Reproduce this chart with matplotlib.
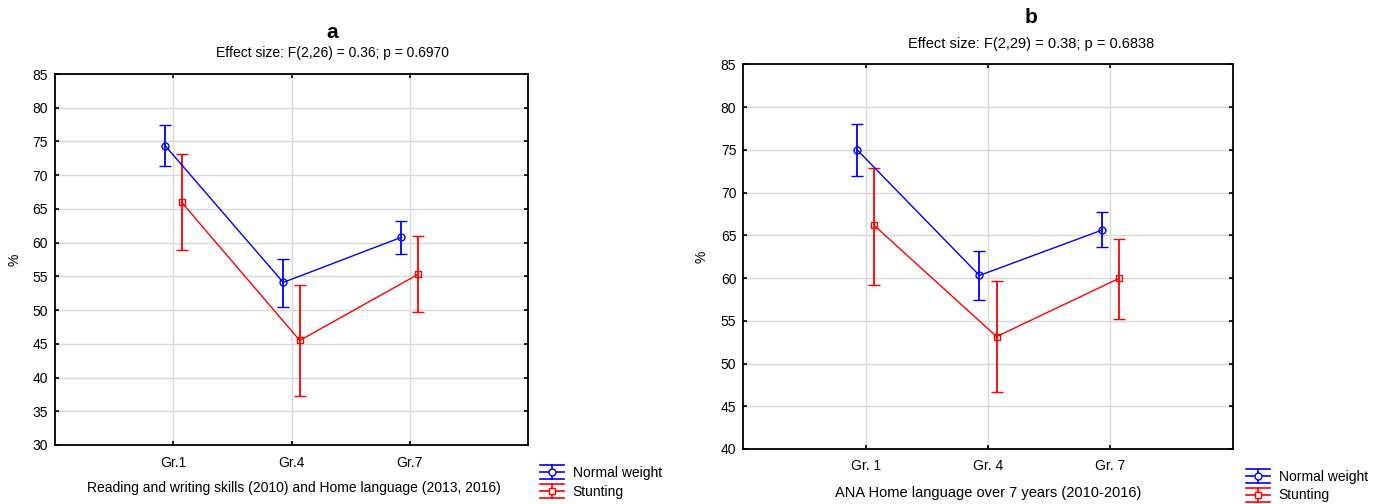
import matplotlib
matplotlib.use("Agg")
import matplotlib.pyplot as plt
import numpy as np
from matplotlib.lines import Line2D
from matplotlib.legend_handler import HandlerBase

plt.rcParams['font.family'] = ['Liberation Sans', 'DejaVu Sans']

# ---------------- data ----------------
groups_a = ["Gr.1", "Gr.4", "Gr.7"]
groups_b = ["Gr. 1", "Gr. 4", "Gr. 7"]
series = ["Normal weight", "Stunting"]

a_normal_mean = [74.4, 54.1, 60.8]
a_normal_lo = [71.3, 50.5, 58.3]
a_normal_hi = [77.4, 57.6, 63.2]
a_stunt_mean = [66.0, 45.5, 55.3]
a_stunt_lo = [58.9, 37.3, 49.7]
a_stunt_hi = [73.1, 53.7, 61.0]

b_normal_mean = [75.0, 60.3, 65.6]
b_normal_lo = [71.9, 57.4, 63.6]
b_normal_hi = [78.0, 63.2, 67.7]
b_stunt_mean = [66.15, 53.15, 59.95]
b_stunt_lo = [59.2, 46.7, 55.2]
b_stunt_hi = [72.9, 59.7, 64.6]

title_a = "a"
sub_a = "Effect size: F(2,26) = 0.36; p = 0.6970"
xlabel_a = "Reading and writing skills (2010) and Home language (2013, 2016)"
title_b = "b"
sub_b = "Effect size: F(2,29) = 0.38; p = 0.6838"
xlabel_b = "ANA Home language over 7 years (2010-2016)"

W, H = 1384, 504
fig = plt.figure(figsize=(W / 100, H / 100), dpi=100)

def px_axes(l, r, t, b):
    return fig.add_axes([l / W, (H - b) / H, (r - l) / W, (b - t) / H])

ax_a = px_axes(55, 528, 74, 445)
ax_b = px_axes(743.3, 1232.7, 64.3, 449)

colors = ["#0000ff", "#ff0000"]
markers = ["o", "s"]
offs = [-0.07, 0.07]


def draw(ax, groups, means, los, his, ylim, yticks, fs, xpad):
    x = np.arange(1, len(groups) + 1)
    for i in range(2):
        m = np.array(means[i]); lo = np.array(los[i]); hi = np.array(his[i])
        ax.errorbar(x + offs[i], m, yerr=[m - lo, hi - m], color=colors[i],
                    marker=markers[i], markersize=5, mfc="none", mec=colors[i],
                    mew=1.0, lw=1.0, elinewidth=1.3, capsize=4.5, capthick=1.3,
                    zorder=3)
    ax.set_xlim(0, 4)
    ax.set_ylim(*ylim)
    ax.set_yticks(yticks)
    ax.set_xticks(x)
    ax.set_xticklabels(groups)
    ax.grid(True, color="#d9d9d9", lw=1.0)
    ax.set_axisbelow(True)
    for s in ax.spines.values():
        s.set_linewidth(1.3)
        s.set_color("black")
    ax.tick_params(direction="in", length=3, width=1.2, top=True, right=True,
                   labelsize=fs, pad=5)
    ax.tick_params(axis="x", pad=xpad)


draw(ax_a, groups_a, [a_normal_mean, a_stunt_mean], [a_normal_lo, a_stunt_lo],
     [a_normal_hi, a_stunt_hi], (30, 85), np.arange(30, 86, 5), 10, 8)
draw(ax_b, groups_b, [b_normal_mean, b_stunt_mean], [b_normal_lo, b_stunt_lo],
     [b_normal_hi, b_stunt_hi], (40, 85), np.arange(40, 86, 5), 10, 7)

ax_a.set_xlabel(xlabel_a, fontsize=10)
ax_a.xaxis.set_label_coords(0.505, -0.116)
ax_a.xaxis.label.set_va("center")
ax_a.set_ylabel("%", fontsize=10)
ax_a.yaxis.set_label_coords(-0.085, 0.5)
ax_a.yaxis.label.set_va("center")

ax_b.set_xlabel(xlabel_b, fontsize=10.5)
ax_b.xaxis.set_label_coords(0.5, -0.114)
ax_b.xaxis.label.set_va("center")
ax_b.set_ylabel("%", fontsize=10)
ax_b.yaxis.set_label_coords(-0.086, 0.5)
ax_b.yaxis.label.set_va("center")

fig.text(332 / W, (H - 32) / H, title_a, fontsize=15, fontweight="bold",
         ha="center", va="center")
fig.text(333 / W, (H - 53) / H, sub_a, fontsize=10, ha="center", va="center")
fig.text(1031 / W, (H - 17.5) / H, title_b, fontsize=15, fontweight="bold",
         ha="center", va="center")
fig.text(1031 / W, (H - 44) / H, sub_b, fontsize=10.5, ha="center", va="center")


class EBHandler(HandlerBase):
    def create_artists(self, legend, orig_handle, xdescent, ydescent, width,
                       height, fontsize, trans):
        c = orig_handle.get_color()
        mk = orig_handle.get_marker()
        x0, x1 = -xdescent, -xdescent + width
        xc = (x0 + x1) / 2
        yc = -ydescent + height / 2
        d = 5.0
        arts = []
        for yy in (yc - d, yc, yc + d):
            arts.append(Line2D([x0, x1], [yy, yy], color=c, lw=1.2))
        arts.append(Line2D([xc, xc], [yc - d, yc + d], color=c, lw=1.2))
        arts.append(Line2D([xc], [yc], marker=mk, markersize=5, mfc="white",
                           mec=c, mew=1.0, color=c, lw=0))
        for a in arts:
            a.set_transform(trans)
        return arts


def add_legend(xleft, ycenter, fs):
    handles = [Line2D([], [], color=colors[i], marker=markers[i]) for i in range(2)]
    fig.legend(handles, series, loc="center left",
               bbox_to_anchor=(xleft / W, (H - ycenter) / H), frameon=False,
               fontsize=fs, handlelength=1.75, handletextpad=0.6,
               labelspacing=0.35, borderpad=0, borderaxespad=0,
               handler_map={Line2D: EBHandler()})


add_legend(540, 482.5, 10)
add_legend(1246, 486, 10)

fig.savefig("out.png", dpi=100)
